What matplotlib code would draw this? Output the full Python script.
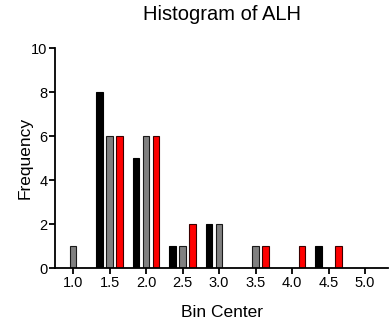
import numpy as np
import matplotlib
matplotlib.use("Agg")
import matplotlib.pyplot as plt

plt.rcParams['font.family'] = ['Liberation Sans', 'DejaVu Sans']

# bin centres and counts for the three data sets
bin_centers = [1.0, 1.5, 2.0, 2.5, 3.0, 3.5, 4.0, 4.5, 5.0]
counts_black = [0, 8, 5, 1, 2, 0, 0, 1, 0]
counts_gray = [1, 6, 6, 1, 2, 1, 0, 0, 0]
counts_red = [0, 6, 6, 2, 0, 1, 1, 1, 0]
xtick_labels = ['1.0', '1.5', '2.0', '2.5', '3.0', '3.5', '4.0', '4.5', '5.0']

fig = plt.figure(figsize=(3.9, 3.25), dpi=100)
ax = fig.add_axes([0.141, 0.175, 0.854, 0.677])

x = np.array(bin_centers)
offset = 0.137
width = 0.085
ax.bar(x - offset, counts_black, width=width, color='black',
       edgecolor='black', linewidth=0.8)
ax.bar(x, counts_gray, width=width, color='#808080',
       edgecolor='#1a1a1a', linewidth=0.8)
ax.bar(x + offset, counts_red, width=width, color='#ff0000',
       edgecolor='#3a0000', linewidth=0.8)

ax.set_xlim(0.753, 5.315)
ax.set_ylim(0, 10)
ax.set_xticks(bin_centers)
ax.set_xticklabels(xtick_labels)
ax.set_yticks([0, 2, 4, 6, 8, 10])

for side in ['top', 'right']:
    ax.spines[side].set_visible(False)
for side in ['left', 'bottom']:
    ax.spines[side].set_linewidth(1.3)
ax.tick_params(axis='both', width=1.3, length=4, labelsize=10.5, pad=1.5)

ax.set_xlabel('Bin Center', fontsize=12.5, labelpad=11)
ax.set_ylabel('Frequency', fontsize=12.5, labelpad=-1)
ax.set_title('Histogram of ALH', fontsize=14.5, pad=20)

fig.savefig('out.png', dpi=100)
